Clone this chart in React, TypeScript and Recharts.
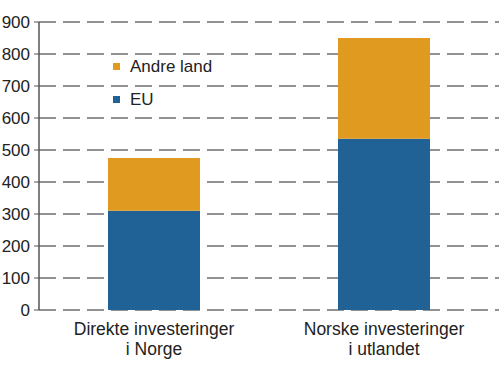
import React from 'react';
import { BarChart, Bar, XAxis, YAxis, CartesianGrid } from 'recharts';

const categories = ['Direkte investeringer\ni Norge', 'Norske investeringer\ni utlandet'];
const euValues = [310, 535];
const otherValues = [165, 315];
const yTicks = [0, 100, 200, 300, 400, 500, 600, 700, 800, 900];
const edgeTicks = [0, 1, 2];
const legendItems = ['Andre land', 'EU'];

const BLUE = '#216296';
const ORANGE = '#DF9A1F';
const AXIS = '#555555';
const FONT = '"Liberation Sans", Arial, sans-serif';

const data = categories.map((name, i) => ({ name, eu: euValues[i], other: otherValues[i] }));

const CategoryTick = (props: any) => {
  const { x, y, payload } = props;
  const lines = String(payload.value).split('\n');
  return (
    <text x={x} y={y} textAnchor="middle" fill="#222" fontSize={17.5} fontFamily={FONT}>
      {lines.map((line, i) => (
        <tspan key={i} x={x} dy={i === 0 ? 17 : 20}>
          {line}
        </tspan>
      ))}
    </text>
  );
};

// legend sits inside the plot, Andre land above EU
const LegendBox = () => {
  const colors = [ORANGE, BLUE];
  return (
    <div style={{ position: 'absolute', left: 113, top: 50, fontFamily: FONT, fontSize: 17, color: '#222' }}>
      {legendItems.map((label, i) => (
        <div key={label} style={{ display: 'flex', alignItems: 'center', height: 33 }}>
          <span style={{ width: 7, height: 7, background: colors[i], display: 'inline-block', marginRight: 10 }} />
          <span>{label}</span>
        </div>
      ))}
    </div>
  );
};

export default function App() {
  return (
    <div style={{ position: 'absolute', left: 0, top: 0, width: 500, height: 372, background: '#fff' }}>
      <BarChart width={500} height={372} data={data} margin={{ top: 22, right: 1, bottom: 0, left: 0 }}>
        <CartesianGrid vertical={false} stroke="#6e6e6e" strokeWidth={1.5} strokeDasharray="17 7" />
        <XAxis
          xAxisId="edges"
          type="number"
          domain={[0, 2]}
          ticks={edgeTicks}
          height={0}
          axisLine={{ stroke: AXIS, strokeWidth: 1.5 }}
          tickLine={{ stroke: AXIS }}
          tickSize={5}
          tickFormatter={() => ''}
        />
        <XAxis
          dataKey="name"
          height={62}
          axisLine={false}
          tickLine={false}
          interval={0}
          tick={<CategoryTick />}
        />
        <YAxis
          width={39}
          domain={[0, 900]}
          ticks={yTicks}
          interval={0}
          axisLine={{ stroke: AXIS, strokeWidth: 1.5 }}
          tickLine={{ stroke: AXIS }}
          tickSize={5}
          tickMargin={4}
          tick={{ fill: '#222', fontSize: 17, fontFamily: FONT }}
        />
        <Bar dataKey="eu" stackId="a" fill={BLUE} barSize={92} isAnimationActive={false} />
        <Bar dataKey="other" stackId="a" fill={ORANGE} barSize={92} isAnimationActive={false} />
      </BarChart>
      <LegendBox />
    </div>
  );
}
